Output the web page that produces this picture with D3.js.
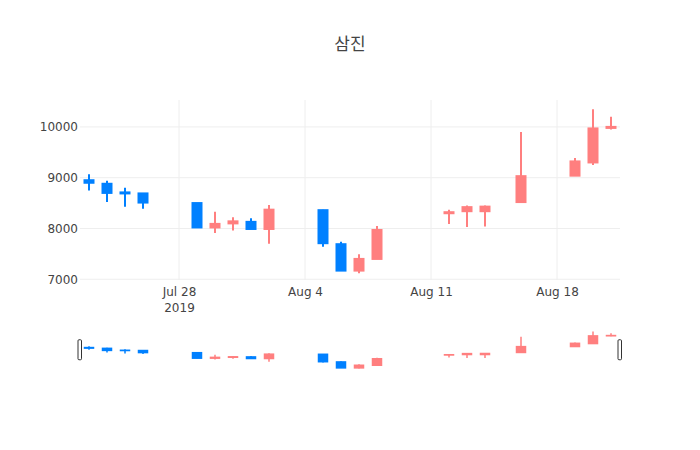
<!DOCTYPE html>
<html>
<head>
<meta charset="utf-8">
<script src="https://cdn.jsdelivr.net/npm/d3@7"></script>
<style>
  body { margin: 0; background: #fff; }
  text { font-family: "DejaVu Sans", "Noto Sans CJK KR", sans-serif; fill: #444; }
</style>
</head>
<body>
<div id="chart"></div>
<script>
// daily prices, Jul 23 - Aug 21 2019
var dates = ["2019-07-23", "2019-07-24", "2019-07-25", "2019-07-26", "2019-07-29",
  "2019-07-30", "2019-07-31", "2019-08-01", "2019-08-02", "2019-08-05",
  "2019-08-06", "2019-08-07", "2019-08-08", "2019-08-12", "2019-08-13",
  "2019-08-14", "2019-08-16", "2019-08-19", "2019-08-20", "2019-08-21"];
var openPrices = [8950, 8880, 8710, 8690, 8500, 8020, 8100, 8130, 7990, 8360,
  7690, 7170, 7400, 8300, 8340, 8340, 8520, 9040, 9300, 9980];
var highPrices = [9070, 8940, 8800, 8700, 8500, 8330, 8220, 8200, 8460, 8370,
  7740, 7490, 8050, 8370, 8450, 8450, 9900, 9390, 10350, 10200];
var lowPrices = [8750, 8520, 8430, 8390, 8020, 7910, 7960, 7990, 7700, 7640,
  7170, 7120, 7400, 8090, 8030, 8040, 8520, 9040, 9250, 9950];
var closePrices = [8900, 8700, 8690, 8510, 8020, 8090, 8140, 7990, 8370, 7710,
  7170, 7400, 7970, 8320, 8420, 8430, 9030, 9320, 9970, 10000];

var yTicks = [7000, 8000, 9000, 10000];
var xTicks = ["2019-07-28", "2019-08-04", "2019-08-11", "2019-08-18"];
var xRange = ["2019-07-22T12:00", "2019-08-21T12:00"];
var yRange = [6985, 10530];

var upColor = "#ff7f7f", downColor = "#0080ff";

function toDate(s) {
  var p = s.split(/[-T:]/);
  return new Date(Date.UTC(+p[0], +p[1] - 1, +p[2], +(p[3] || 0), +(p[4] || 0)));
}

var candles = dates.map(function(d, i) {
  return { date: toDate(d), o: openPrices[i], h: highPrices[i], l: lowPrices[i], c: closePrices[i] };
});

var width = 700, height = 450;
var plotLeft = 80, plotRight = 620, plotTop = 100, plotBottom = 280;
var sliderTop = 329.5, sliderBottom = 370;

var svg = d3.select("#chart")
  .append("svg")
  .attr("width", width)
  .attr("height", height);

svg.append("rect")
  .attr("width", width)
  .attr("height", height)
  .attr("fill", "#fff");

var x = d3.scaleUtc()
  .domain(xRange.map(toDate))
  .range([plotLeft, plotRight]);

var y = d3.scaleLinear()
  .domain(yRange)
  .range([plotBottom, plotTop]);

var ySlider = d3.scaleLinear()
  .domain(yRange)
  .range([sliderBottom, sliderTop]);

svg.append("text")
  .attr("x", 350)
  .attr("y", 50)
  .attr("text-anchor", "middle")
  .style("font-size", "17px")
  .text("삼진");

// grid
var grid = svg.append("g").attr("class", "grid");

grid.selectAll("line.xg")
  .data(xTicks.map(toDate))
  .enter()
  .append("line")
  .attr("class", "xg")
  .attr("x1", function(d) { return x(d); })
  .attr("x2", function(d) { return x(d); })
  .attr("y1", plotTop)
  .attr("y2", plotBottom)
  .attr("stroke", "#eee")
  .attr("stroke-width", 1);

grid.selectAll("line.yg")
  .data(yTicks)
  .enter()
  .append("line")
  .attr("class", "yg")
  .attr("x1", plotLeft)
  .attr("x2", plotRight)
  .attr("y1", function(d) { return y(d); })
  .attr("y2", function(d) { return y(d); })
  .attr("stroke", "#eee")
  .attr("stroke-width", 1);

// axes
var yAxis = d3.axisLeft(y)
  .tickValues(yTicks)
  .tickSize(0)
  .tickPadding(2)
  .tickFormat(d3.format("d"));

svg.append("g")
  .attr("transform", "translate(" + plotLeft + ",0)")
  .call(yAxis)
  .call(function(g) { g.select(".domain").remove(); })
  .selectAll("text")
  .style("font-size", "12px")
  .style("font-family", "'DejaVu Sans', sans-serif")
  .attr("fill", "#444");

var xAxis = d3.axisBottom(x)
  .tickValues(xTicks.map(toDate))
  .tickSize(0)
  .tickPadding(0)
  .tickFormat(d3.utcFormat("%b %-d"));

var xg = svg.append("g")
  .attr("transform", "translate(0," + plotBottom + ")")
  .call(xAxis)
  .call(function(g) { g.select(".domain").remove(); });

xg.selectAll("text")
  .attr("dy", null)
  .attr("y", 16)
  .style("font-size", "12px")
  .style("font-family", "'DejaVu Sans', sans-serif")
  .attr("fill", "#444");

xg.select(".tick")
  .append("text")
  .attr("y", 31.6)
  .attr("text-anchor", "middle")
  .style("font-size", "12px")
  .style("font-family", "'DejaVu Sans', sans-serif")
  .attr("fill", "#444")
  .text("2019");

// candles
function drawCandles(g, ys, bodyW, wickW) {
  var c = g.selectAll("g.candle")
    .data(candles)
    .enter()
    .append("g")
    .attr("class", "candle");

  c.append("line")
    .attr("x1", function(d) { return x(d.date); })
    .attr("x2", function(d) { return x(d.date); })
    .attr("y1", function(d) { return ys(d.h); })
    .attr("y2", function(d) { return ys(d.l); })
    .attr("stroke", function(d) { return d.c >= d.o ? upColor : downColor; })
    .attr("stroke-width", wickW);

  c.append("rect")
    .attr("x", function(d) { return x(d.date) - bodyW / 2; })
    .attr("width", bodyW)
    .attr("y", function(d) { return ys(Math.max(d.o, d.c)); })
    .attr("height", function(d) { return Math.abs(ys(d.o) - ys(d.c)); })
    .attr("fill", function(d) { return d.c >= d.o ? upColor : downColor; })
    .attr("stroke", function(d) { return d.c >= d.o ? upColor : downColor; })
    .attr("stroke-width", wickW);
}

drawCandles(svg.append("g"), y, 9, 2);

// range slider
var slider = svg.append("g").attr("class", "rangeslider");
drawCandles(slider, ySlider, 9, 1.5);

var mid = (sliderTop + sliderBottom) / 2;
slider.selectAll("rect.grabber")
  .data([plotLeft, plotRight])
  .enter()
  .append("rect")
  .attr("class", "grabber")
  .attr("x", function(d) { return d - 2; })
  .attr("y", mid - 10)
  .attr("width", 3.5)
  .attr("height", 20)
  .attr("rx", 1)
  .attr("fill", "#fff")
  .attr("stroke", "#333")
  .attr("stroke-width", 1);
</script>
</body>
</html>
